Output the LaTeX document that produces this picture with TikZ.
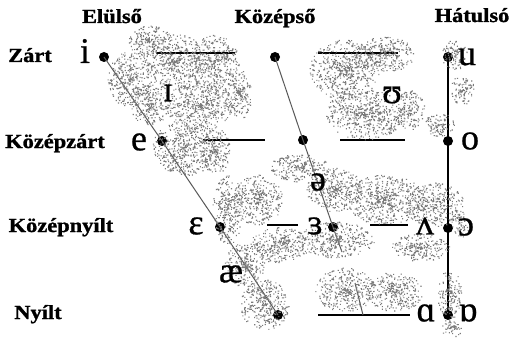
\documentclass[tikz,border=0pt]{standalone}
\usepackage{fontspec}
\setmainfont{Liberation Serif}
\newfontfamily\hdfont[UprightFont={* Bold}, FakeBold=1.2]{Liberation Serif}
\newfontfamily\vwfont[FakeBold=0.7]{Liberation Serif}
\usepackage{graphicx}
\newcount\stipk
\newcommand\stip[4]{%
  \begin{pgfscope}%
  \pgfsetfillcolor{black!52}%
  \pgfmathtruncatemacro\nn{0.55*#3*#4}%
  \stipk=0
  \loop
    \pgfmathsetmacro\ra{rnd^0.7}%
    \pgfmathsetmacro\th{360*rnd}%
    \pgfmathsetmacro\px{#1+#3*\ra*cos(\th)-0.55}%
    \pgfmathsetmacro\py{-(#2+#4*\ra*sin(\th))-0.55}%
    \pgfpathrectangle{\pgfpoint{\px pt}{\py pt}}{\pgfpoint{1.1pt}{1.1pt}}%
    \advance\stipk by 1
  \ifnum\stipk<\nn\repeat
  \pgfusepath{fill}%
  \end{pgfscope}}
\newcommand\hd[1]{\scalebox{1.12}[1]{#1}}
\begin{document}
\begin{tikzpicture}[x=1pt,y=-1pt,
  hdr/.style={font=\fontsize{20}{22}\selectfont\hdfont, inner sep=0, anchor=base},
  vw/.style={font=\fontsize{36}{38}\selectfont\vwfont, inner sep=0},
  vdot/.style={circle, fill=black, inner sep=0, minimum size=10pt},
  rule/.style={line width=1.2pt},
  slant/.style={line width=1pt, draw=black!65}]
\useasboundingbox (0,0) rectangle (510,339);
\fill[white] (0,0) rectangle (510,339);
% dots
\node[vdot] (pi) at (104,57) {};
\node[vdot] (pc1) at (275,57) {};
\node[vdot] (pu) at (448,57) {};
\node[vdot] (pe) at (162,141) {};
\node[vdot] (pc2) at (303,140) {};
\node[vdot] (po) at (448,141) {};
\node[vdot] (peps) at (220,227) {};
\node[vdot] (pc3) at (333,227) {};
\node[vdot] (popen) at (448,228) {};
\node[vdot] (pa) at (278,315) {};
\node[vdot] (pob) at (448,315) {};
\coordinate (cend) at (342,252);
% slanted lines
\draw[slant] (pi.center) -- (pe.center) -- (peps.center) -- (pa.center);
\draw[slant] (pc1.center) -- (pc2.center) -- (pc3.center) -- (cend);
\draw[rule] (pu.center) -- (po.center) -- (popen.center) -- (pob.center);
% horizontal segments
\coordinate (h1a) at (156,53); \coordinate (h1b) at (235,53);
\coordinate (h1c) at (318,53); \coordinate (h1d) at (398,53);
\coordinate (h2a) at (203,140); \coordinate (h2b) at (265,140);
\coordinate (h2c) at (340,140); \coordinate (h2d) at (405,140);
\coordinate (h3a) at (267,225); \coordinate (h3b) at (298,225);
\coordinate (h3c) at (370,225); \coordinate (h3d) at (408,225);
\coordinate (h4a) at (318,315); \coordinate (h4b) at (410,315);
\coordinate (s1) at (355,283); \coordinate (s2) at (363,315);
\draw[rule] (h1a) -- (h1b); \draw[rule] (h1c) -- (h1d);
\draw[rule] (h2a) -- (h2b); \draw[rule] (h2c) -- (h2d);
\draw[rule] (h3a) -- (h3b); \draw[rule] (h3c) -- (h3d);
\draw[rule] (h4a) -- (h4b);
\draw[slant] (s1) -- (s2);
% stipple clouds
\pgfmathsetseed{1234}
\stip{150}{42}{22}{16}
\stip{130}{80}{22}{28}
\stip{175}{62}{32}{28}
\stip{215}{65}{25}{30}
\stip{200}{105}{35}{25}
\stip{240}{95}{12}{25}
\stip{150}{105}{20}{20}
\stip{185}{148}{32}{28}
\stip{215}{150}{15}{25}
\stip{345}{70}{35}{30}
\stip{385}{55}{30}{18}
\stip{365}{115}{40}{25}
\stip{410}{110}{15}{20}
\stip{455}{55}{13}{15}
\stip{463}{90}{12}{15}
\stip{440}{125}{15}{12}
\stip{300}{168}{30}{14}
\stip{335}{190}{28}{22}
\stip{258}{200}{25}{25}
\stip{385}{200}{40}{25}
\stip{435}{205}{30}{22}
\stip{335}{240}{40}{18}
\stip{280}{245}{30}{18}
\stip{228}{210}{15}{35}
\stip{245}{265}{20}{22}
\stip{420}{248}{30}{14}
\stip{462}{225}{10}{12}
\stip{345}{290}{30}{22}
\stip{395}{292}{28}{20}
\stip{265}{305}{25}{25}
\stip{450}{295}{12}{25}
\stip{452}{328}{10}{10}
% headings
\node[hdr] (hfront) at (112,23) {\hd{Elülső}};
\node[hdr] (hcent) at (275,23) {\hd{Középső}};
\node[hdr] (hback) at (472,22) {\hd{Hátulsó}};
\node[hdr] (rclose) at (30,62) {\hd{Zárt}};
\node[hdr] (rcmid) at (55,148) {\hd{Középzárt}};
\node[hdr] (romid) at (61,232) {\hd{Középnyílt}};
\node[hdr] (ropen) at (38,319) {\hd{Nyílt}};
% vowel symbols
\node[vw] (vi) at (85,51) {i};
\node[vw] (vsi) at (168,93) {ɪ};
\node[vw] (ve) at (139,142) {e};
\node[vw] (veps) at (196,226) {ɛ};
\node[vw] (vae) at (231,274) {æ};
\node[vw] (vu) at (467,57) {u};
\node[vw] (vsu) at (392,95) {ʊ};
\node[vw] (vo) at (470,141) {o};
\node[vw] (vschwa) at (318,182) {ə};
\node[vw] (vrev) at (315,226) {ɜ};
\node[vw] (vturnv) at (425,226) {ʌ};
\node[vw] (vopeno) at (466,227) {ɔ};
\node[vw] (vscript) at (426,313) {ɑ};
\node[vw] (vturna) at (468,313) {ɒ};
\end{tikzpicture}
\end{document}
